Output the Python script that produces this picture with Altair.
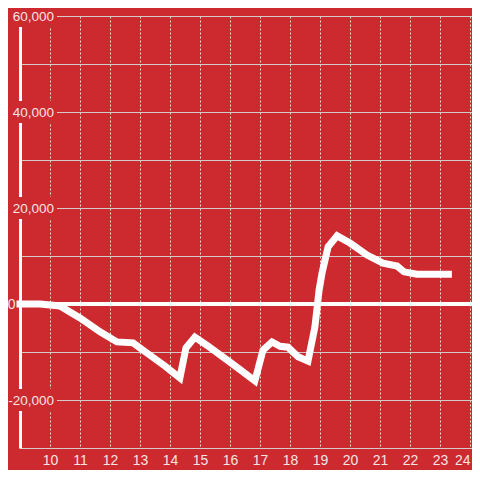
import altair as alt
import pandas as pd

BG = "#CC2A2F"
TXT = "#F4E4E4"

hours = [9.0, 9.67, 10.33, 11.0, 11.67, 12.23, 12.77, 13.23, 13.83, 14.33, 14.53,
         14.83, 15.27, 16.0, 16.83, 17.1, 17.4, 17.67, 17.93, 18.27, 18.6, 18.83,
         18.97, 19.07, 19.27, 19.57, 20.0, 20.57, 21.1, 21.57, 21.8, 22.23, 23.28]
values = [0, 0, -400, -2900, -5800, -7900, -8100, -10200, -12900, -15400, -9200,
          -6900, -8800, -12100, -16000, -9600, -7900, -8800, -9000, -11000, -11900, -4800,
          2900, 6500, 11900, 14200, 12700, 10200, 8500, 7900, 6700, 6200, 6200]

x_ticks = list(range(10, 25))
y_grid = [-30000, -20000, -10000, 0, 10000, 20000, 30000, 40000, 50000, 60000]
y_label_values = [-20000, 0, 20000, 40000, 60000]
y_label_text = ["-20,000", "0", "20,000", "40,000", "60,000"]

df = pd.DataFrame({"hour": hours, "value": values})
labels = pd.DataFrame({"v": y_label_values, "t": y_label_text})

xs = alt.Scale(domain=[9, 24.067], nice=False, zero=False)
ys = alt.Scale(domain=[-30000, 60000], nice=False)

xenc = alt.X("hour:Q", scale=xs, title=None,
             axis=alt.Axis(values=x_ticks, format="d", domain=False, ticks=False,
                           labelColor=TXT, labelFontSize=14, labelPadding=5,
                           labelFont="Liberation Sans", labelFlush=8,
                           grid=True, gridColor="#E8DCDC", gridDash=[2, 2], gridWidth=1))
yenc = alt.Y("value:Q", scale=ys, title=None,
             axis=alt.Axis(values=y_grid, labels=False, ticks=False,
                           domain=True, domainColor="#FFFFFF", domainWidth=3,
                           grid=True, gridColor="#D3CACA", gridWidth=1))

line = alt.Chart(df).mark_line(color="white", strokeWidth=7, strokeCap="square",
                               strokeJoin="miter").encode(x=xenc, y=yenc)

zero = alt.Chart(df).mark_rule(color="white", strokeWidth=4).encode(y=alt.datum(0, scale=ys))

masks = alt.Chart(labels).transform_filter("datum.v != 0").mark_tick(
    orient="horizontal", thickness=22, color=BG, opacity=1
).encode(y=alt.Y("v:Q", scale=ys), x=alt.value(8), size=alt.value(58))

lab = alt.Chart(labels).transform_filter("datum.v != 0").mark_text(
    align="right", baseline="middle", fontSize=13.5, color=TXT, font="Liberation Sans", dy=1
).encode(y=alt.Y("v:Q", scale=ys), x=alt.value(34), text="t:N")

lab0 = alt.Chart(labels).transform_filter("datum.v == 0").mark_text(
    align="right", baseline="middle", fontSize=14, color=TXT, font="Liberation Sans", dy=1
).encode(y=alt.Y("v:Q", scale=ys), x=alt.value(-4.5), text="t:N")

chart = alt.layer(zero, masks, lab, lab0, line).properties(
    width=452, height=432,
    background=BG,
    autosize=alt.AutoSizeParams(type="none"),
    padding={"left": 12, "top": 8, "right": 0, "bottom": 22},
).configure_view(stroke=None)

chart.save("out.html", embed_options={"renderer": "svg", "actions": False})
